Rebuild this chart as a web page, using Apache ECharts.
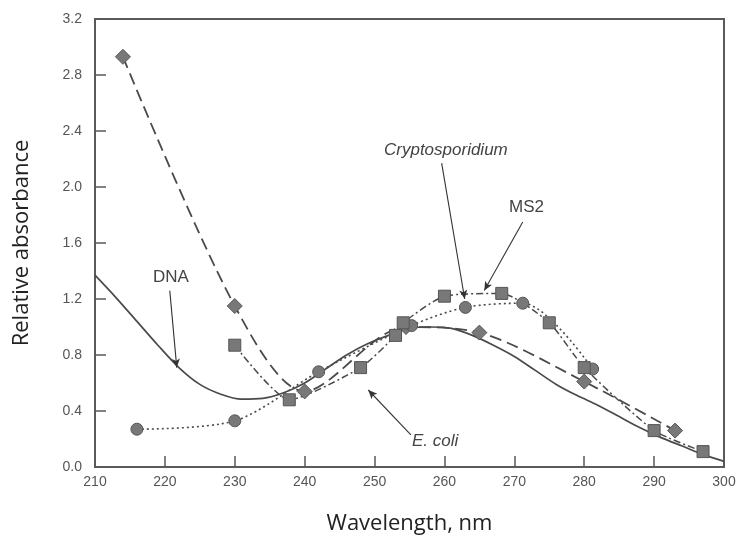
<!DOCTYPE html>
<html>
<head>
<meta charset="utf-8">
<script src="https://cdn.jsdelivr.net/npm/echarts@6/dist/echarts.min.js"></script>
<style>
  html, body { margin: 0; padding: 0; background: #fff; }
  #chart { width: 739px; height: 542px; }
</style>
</head>
<body>
<div id="chart"></div>
<script>
// absorbance spectra (wavelength nm, relative absorbance)
const dnaCurve = [
  [210, 1.37], [213, 1.21], [216, 1.04], [219, 0.87], [222, 0.71], [225, 0.59],
  [228, 0.52], [231, 0.485], [234, 0.49], [237, 0.53], [240, 0.6], [243, 0.7],
  [246, 0.8], [249, 0.88], [252, 0.94], [255, 0.99], [258, 1.0], [261, 0.99],
  [264, 0.94], [267, 0.87], [270, 0.79], [273, 0.69], [276, 0.59], [279, 0.51],
  [282, 0.44], [285, 0.36], [288, 0.28], [291, 0.21], [294, 0.15], [297, 0.09],
  [300, 0.04]
]
const ecoliPoints = [
  [214, 2.93], [230, 1.15], [240, 0.54], [254.5, 1.0], [265, 0.96], [280, 0.61], [293, 0.26]
]
const cryptoPoints = [
  [216, 0.27], [230, 0.33], [242, 0.68], [255.3, 1.01], [263, 1.14], [271.2, 1.17], [281.2, 0.7]
]
const ms2Points = [
  [230, 0.87], [237.8, 0.48], [248, 0.71], [253, 0.94], [254.1, 1.03], [260, 1.22],
  [268.2, 1.24], [275, 1.03], [280, 0.71], [290, 0.26], [297, 0.11]
]
const xTicks = [210, 300, 10]
const yTicks = [0, 3.2, 0.4]

const lineColor = '#4a4a4a'
const markFill = '#787878'
const markEdge = '#555'

const chart = echarts.init(document.getElementById('chart'))

function arrow(from, to) {
  return [{ coord: from }, { coord: to }]
}

function label(text, left, top, italic) {
  return {
    type: 'text', left, top,
    style: {
      text, fontFamily: 'Liberation Sans', fontSize: 17,
      fontStyle: italic ? 'italic' : 'normal', fill: '#444'
    }
  }
}

const option = {
  animation: false,
  grid: {
    left: 95, right: 15, top: 19, bottom: 75,
    outerBoundsMode: 'none',
    show: true, borderColor: '#5a5a5a', borderWidth: 2, backgroundColor: 'transparent'
  },
  xAxis: {
    type: 'value',
    min: xTicks[0], max: xTicks[1], interval: xTicks[2],
    name: 'Wavelength, nm',
    nameLocation: 'middle',
    nameGap: 46,
    nameTextStyle: { fontFamily: 'Open Sans', fontSize: 22, color: '#222' },
    axisLine: { show: true, lineStyle: { color: '#5a5a5a', width: 2 } },
    axisTick: { inside: true, length: 11, lineStyle: { color: '#5a5a5a', width: 1.5 } },
    axisLabel: { margin: 8, fontFamily: 'Liberation Sans', fontSize: 14, color: '#555' },
    splitLine: { show: false }
  },
  yAxis: {
    type: 'value',
    min: yTicks[0], max: yTicks[1], interval: yTicks[2],
    name: 'Relative absorbance',
    nameLocation: 'middle',
    nameGap: 62,
    nameTextStyle: { fontFamily: 'Open Sans', fontSize: 22, color: '#222' },
    axisLine: { show: true, lineStyle: { color: '#5a5a5a', width: 2 } },
    axisTick: { inside: true, length: 11, lineStyle: { color: '#5a5a5a', width: 1.5 } },
    axisLabel: {
      margin: 13, fontFamily: 'Liberation Sans', fontSize: 14, color: '#555',
      formatter: v => v.toFixed(1)
    },
    splitLine: { show: false }
  },
  series: [
    {
      name: 'DNA',
      type: 'line',
      data: dnaCurve,
      smooth: 0.3,
      showSymbol: false,
      lineStyle: { color: lineColor, width: 1.7 },
      markLine: {
        silent: true,
        symbol: ['none', 'arrow'],
        symbolSize: [6, 9],
        label: { show: false },
        lineStyle: { color: '#333', width: 1.1, type: 'solid' },
        data: [
          arrow([220.7, 1.26], [221.7, 0.71]),
          arrow([259.6, 2.17], [262.9, 1.2]),
          arrow([271.2, 1.75], [265.7, 1.26]),
          arrow([255.2, 0.23], [249.1, 0.55])
        ]
      }
    },
    {
      name: 'E. coli',
      type: 'line',
      data: ecoliPoints,
      smooth: 0.3,
      symbol: 'diamond',
      symbolSize: 15,
      itemStyle: { color: markFill, borderColor: markEdge, borderWidth: 1 },
      lineStyle: { color: lineColor, width: 1.8, type: [12, 6] }
    },
    {
      name: 'Cryptosporidium',
      type: 'line',
      data: cryptoPoints,
      smooth: 0.3,
      symbol: 'circle',
      symbolSize: 12,
      itemStyle: { color: markFill, borderColor: markEdge, borderWidth: 1 },
      lineStyle: { color: lineColor, width: 1.6, type: [2, 3] }
    },
    {
      name: 'MS2',
      type: 'line',
      data: ms2Points,
      smooth: 0.2,
      symbol: 'rect',
      symbolSize: 12,
      itemStyle: { color: markFill, borderColor: markEdge, borderWidth: 1 },
      lineStyle: { color: lineColor, width: 1.5, type: [7, 3, 2, 3] }
    }
  ],
  graphic: [
    label('DNA', 153, 269, false),
    label('Cryptosporidium', 384, 142, true),
    label('MS2', 509, 199, false),
    label('E. coli', 412, 433, true)
  ]
}

chart.setOption(option)
</script>
</body>
</html>
